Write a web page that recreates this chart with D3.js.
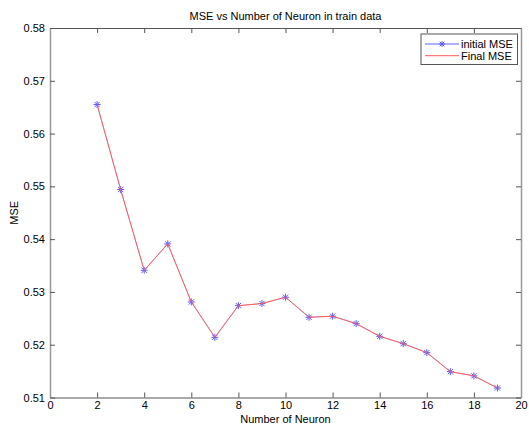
<!DOCTYPE html>
<html><head><meta charset="utf-8">
<script src="https://cdn.jsdelivr.net/npm/d3@7"></script>
<style>
html,body{margin:0;padding:0;background:#fff;}
text{font-family:"Liberation Sans",Arial,sans-serif;fill:#000;}
</style></head>
<body>
<svg id="chart" width="529" height="425"></svg>
<script>
const neurons = [2,3,4,5,6,7,8,9,10,11,12,13,14,15,16,17,18,19];
const initialMSE = [0.5655,0.5494,0.5341,0.5391,0.5281,0.5214,0.5274,0.5278,0.5290,0.5252,0.5254,0.5240,0.5216,0.5202,0.5185,0.5149,0.5141,0.5118];
const finalMSE = [0.5655,0.5494,0.5341,0.5391,0.5281,0.5214,0.5274,0.5278,0.5290,0.5252,0.5254,0.5240,0.5216,0.5202,0.5185,0.5149,0.5141,0.5118];
const xTicks = [0,2,4,6,8,10,12,14,16,18,20];
const yTicks = [0.51,0.52,0.53,0.54,0.55,0.56,0.57,0.58];
const seriesNames = ["initial MSE","Final MSE"];

const svg = d3.select("#chart");
const L=50, R=521, T=28, B=397.5;
const x = d3.scaleLinear().domain([0,20]).range([L,R]);
const y = d3.scaleLinear().domain([0.51,0.58]).range([B,T]);
const fs = 11;

svg.append("rect").attr("x",L).attr("y",T).attr("width",R-L).attr("height",B-T).attr("fill","#fff");

const ax = "#555";
const gB = svg.append("g").attr("transform",`translate(0,${B})`)
  .call(d3.axisBottom(x).tickValues(xTicks).tickFormat(d3.format("d")).tickSizeInner(-5).tickSizeOuter(0).tickPadding(4));
const gT = svg.append("g").attr("transform",`translate(0,${T})`)
  .call(d3.axisTop(x).tickValues(xTicks).tickFormat("").tickSizeInner(-5).tickSizeOuter(0));
const gL = svg.append("g").attr("transform",`translate(${L},0)`)
  .call(d3.axisLeft(y).tickValues(yTicks).tickFormat(d3.format(".2f")).tickSizeInner(-5).tickSizeOuter(0).tickPadding(5));
const gR = svg.append("g").attr("transform",`translate(${R},0)`)
  .call(d3.axisRight(y).tickValues(yTicks).tickFormat("").tickSizeInner(-5).tickSizeOuter(0));
[gB,gT,gL,gR].forEach(g=>{
  g.select(".domain").attr("stroke",ax).attr("stroke-width",1);
  g.selectAll(".tick line").attr("stroke",ax);
  g.selectAll("text").attr("font-size",fs).attr("font-family","Liberation Sans, Arial, sans-serif").attr("fill","#000");
});
gL.selectAll(".domain").attr("stroke","#999").attr("stroke-width",1.5);
gR.selectAll(".domain").attr("stroke","#999").attr("stroke-width",1.5);

const pts = neurons.map((n,i)=>({n, a:initialMSE[i], b:finalMSE[i]}));
const lineA = d3.line().x(d=>x(d.n)).y(d=>y(d.a));
const lineB = d3.line().x(d=>x(d.n)).y(d=>y(d.b));
svg.append("path").datum(pts).attr("d",lineA).attr("fill","none").attr("stroke","#6060ff").attr("stroke-width",0.4);

function star(g,cx,cy,r,color){
  const s = g.append("g").attr("transform",`translate(${cx},${cy})`).attr("stroke",color).attr("stroke-width",1);
  s.append("line").attr("x1",-r).attr("x2",r).attr("y1",0).attr("y2",0);
  s.append("line").attr("x1",0).attr("x2",0).attr("y1",-r).attr("y2",r);
  const k=r*0.75;
  s.append("line").attr("x1",-k).attr("x2",k).attr("y1",-k).attr("y2",k);
  s.append("line").attr("x1",-k).attr("x2",k).attr("y1",k).attr("y2",-k);
}
const mk = svg.append("g");
pts.forEach(d=>star(mk,x(d.n),y(d.a),3.5,"#5a5aff"));
svg.append("path").datum(pts).attr("d",lineB).attr("fill","none").attr("stroke","#ff5a5a").attr("stroke-width",1);

svg.append("text").attr("x",(L+R)/2).attr("y",20).attr("text-anchor","middle").attr("font-size",fs).text("MSE vs Number of Neuron in train data");
svg.append("text").attr("x",(L+R)/2).attr("y",423).attr("text-anchor","middle").attr("font-size",fs).text("Number of Neuron");
svg.append("text").attr("transform",`translate(18,${(T+B)/2}) rotate(-90)`).attr("text-anchor","middle").attr("font-size",fs).text("MSE");

const lg = svg.append("g");
lg.append("rect").attr("x",421).attr("y",34).attr("width",96.5).attr("height",30.5).attr("fill","#fff").attr("stroke","#555").attr("stroke-width",1);
const ly = [44,55.7];
lg.append("line").attr("x1",425).attr("x2",459).attr("y1",ly[0]).attr("y2",ly[0]).attr("stroke","#6060ff").attr("stroke-width",1);
star(lg,442,ly[0],3,"#5a5aff");
lg.append("line").attr("x1",425).attr("x2",459).attr("y1",ly[1]).attr("y2",ly[1]).attr("stroke","#ff5a5a").attr("stroke-width",1);
seriesNames.forEach((s,i)=>{
  lg.append("text").attr("x",461).attr("y",ly[i]+4).attr("font-size",fs).text(s);
});
</script>
</body></html>
